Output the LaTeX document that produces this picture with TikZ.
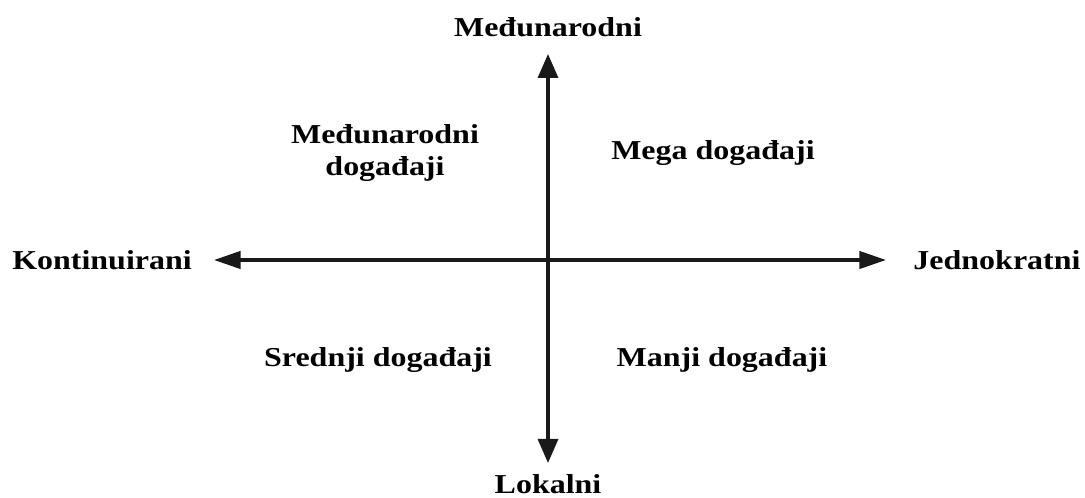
\documentclass[tikz,border=0pt]{standalone}
\usepackage{fontspec}
\setmainfont{Liberation Serif}
\usepackage{tikz}
\usetikzlibrary{arrows.meta}

\begin{document}
\begin{tikzpicture}[
	x=0.75pt,
	y=-0.75pt,
	% Axis ends and quadrant labels
	axisLabel/.style={
		font=\fontsize{20.5}{24}\selectfont\bfseries,
		xscale=1.17,
		inner sep=0pt
	},
	quadLabel/.style={
		font=\fontsize{20.5}{24}\selectfont\bfseries,
		xscale=1.17,
		align=center,
		inner sep=0pt
	},
	axisV/.style={
		{Triangle[length=18pt,width=15pt]}-{Triangle[length=18pt,width=15pt]},
		line width=2.5pt,
		black!90
	},
	axisH/.style={
		{Triangle[length=20pt,width=13pt]}-{Triangle[length=20pt,width=13pt]},
		line width=2.5pt,
		black!90
	}
	]
	
	% Frame of the picture
	\useasboundingbox (0,0) rectangle (1085,498);
	
	% Axis end labels
	\node[axisLabel] (intl)   at (548,27)  {Međunarodni};
	\node[axisLabel] (local)  at (548,484) {Lokalni};
	\node[axisLabel] (cont)   at (102,260) {Kontinuirani};
	\node[axisLabel] (single) at (997,260) {Jednokratni};
	
	% Arrow tips of the axes
	\coordinate (topTip)    at (548,54);
	\coordinate (bottomTip) at (548,463);
	\coordinate (leftTip)   at (214,260);
	\coordinate (rightTip)  at (886,260);
	
	\draw[axisV] (bottomTip) -- (topTip);
	\draw[axisH] (leftTip) -- (rightTip);
	
	% Quadrant labels
	\node[quadLabel] (intlEvents)   at (385,153) {Međunarodni\\događaji};
	\node[quadLabel] (megaEvents)   at (713,153) {Mega događaji};
	\node[quadLabel] (mediumEvents) at (378,360) {Srednji događaji};
	\node[quadLabel] (minorEvents)  at (722,360) {Manji događaji};
	
\end{tikzpicture}
\end{document}
